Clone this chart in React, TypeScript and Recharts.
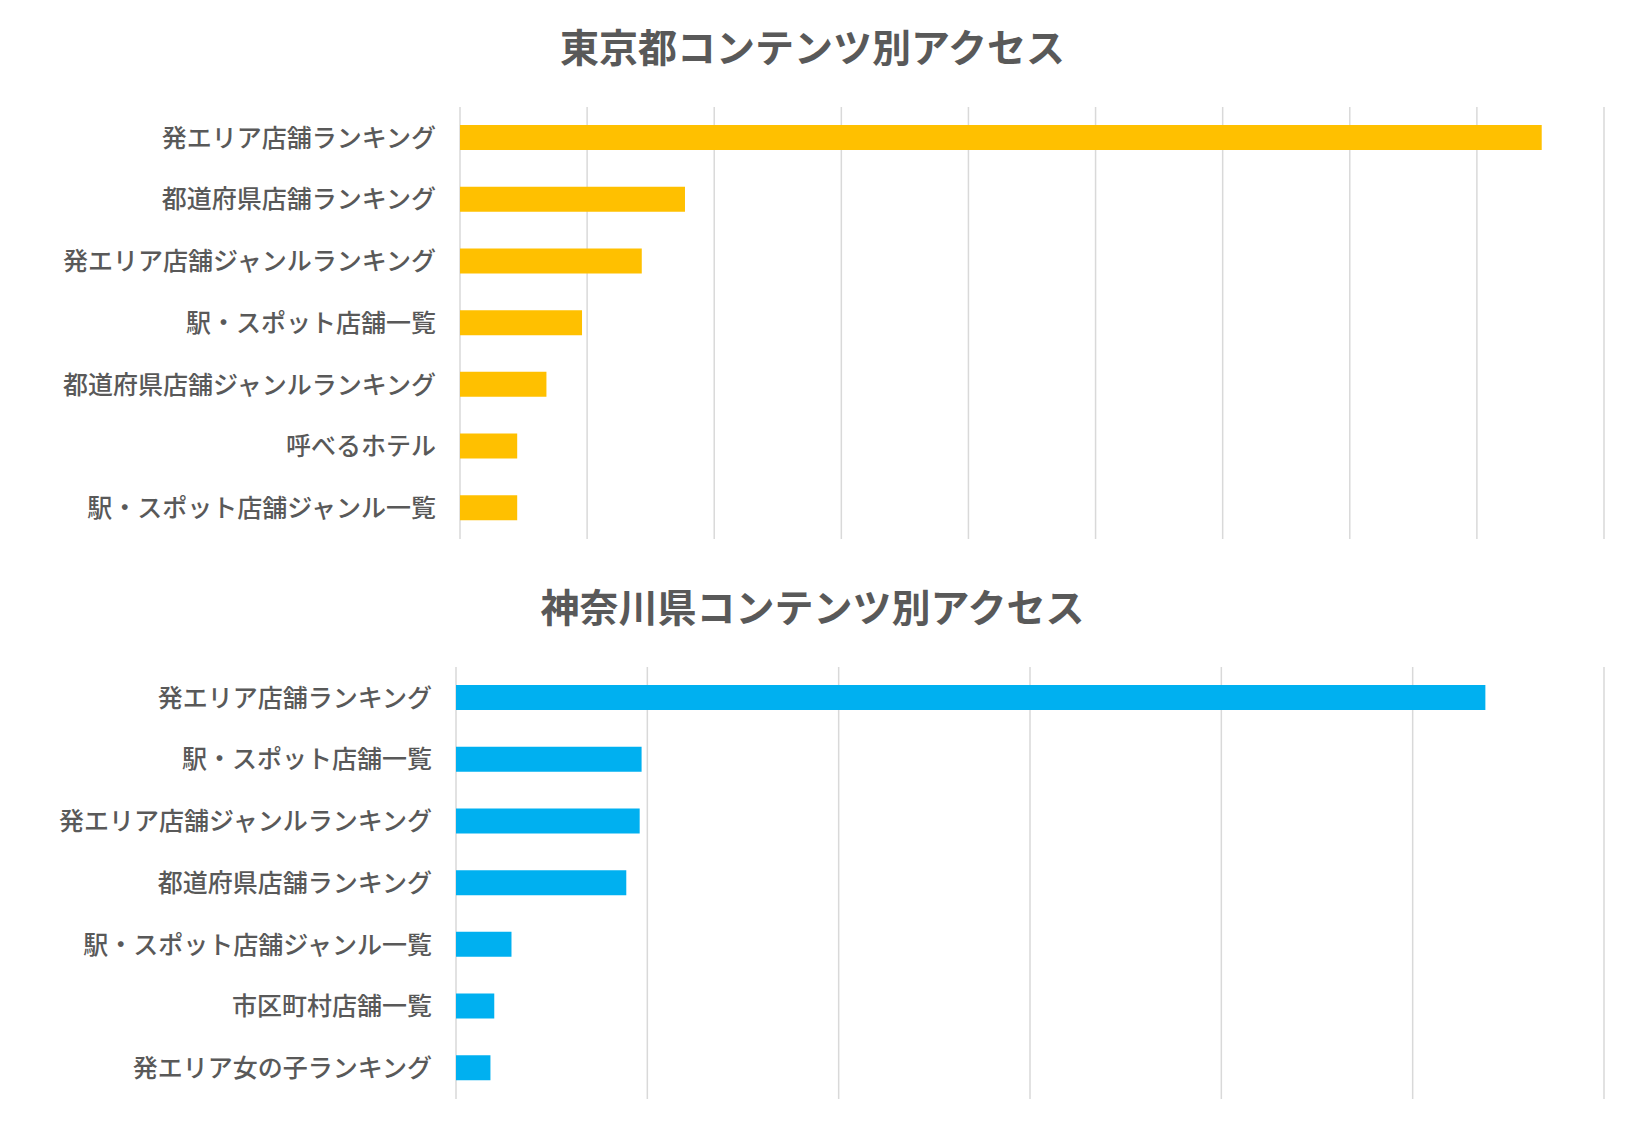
import React from 'react';
import { BarChart, Bar, XAxis, YAxis, CartesianGrid } from 'recharts';

const tokyoCategories = [
  '発エリア店舗ランキング',
  '都道府県店舗ランキング',
  '発エリア店舗ジャンルランキング',
  '駅・スポット店舗一覧',
  '都道府県店舗ジャンルランキング',
  '呼べるホテル',
  '駅・スポット店舗ジャンル一覧',
];
const tokyoValues = [8510, 1770, 1430, 960, 680, 450, 450];
const tokyoTicks = [0, 1000, 2000, 3000, 4000, 5000, 6000, 7000, 8000, 9000];

const kanagawaCategories = [
  '発エリア店舗ランキング',
  '駅・スポット店舗一覧',
  '発エリア店舗ジャンルランキング',
  '都道府県店舗ランキング',
  '駅・スポット店舗ジャンル一覧',
  '市区町村店舗一覧',
  '発エリア女の子ランキング',
];
const kanagawaValues = [5380, 970, 960, 890, 290, 200, 180];
const kanagawaTicks = [0, 1000, 2000, 3000, 4000, 5000, 6000];

const FONT = '"Noto Sans CJK JP", "Noto Sans", sans-serif';
const TEXT = '#595959';

const NoTick = () => <g />;

function AccessChart({
  title,
  categories,
  values,
  ticks,
  color,
  axisWidth,
}: {
  title: string;
  categories: string[];
  values: number[];
  ticks: number[];
  color: string;
  axisWidth: number;
}) {
  const data = categories.map((name, i) => ({ name, value: values[i] }));
  return (
    <div style={{ position: 'relative', width: 1625, height: 560 }}>
      <div
        style={{
          position: 'absolute',
          top: 20,
          left: 0,
          width: 1625,
          textAlign: 'center',
          fontFamily: FONT,
          fontWeight: 700,
          fontSize: 39,
          color: TEXT,
          lineHeight: '50px',
        }}
      >
        {title}
      </div>
      <BarChart
        width={1625}
        height={560}
        data={data}
        layout="vertical"
        margin={{ top: 107, right: 21, bottom: 20, left: 0 }}
      >
        <CartesianGrid horizontal={false} stroke="#d9d9d9" strokeWidth={1.5} />
        <XAxis
          type="number"
          domain={[0, ticks[ticks.length - 1]]}
          ticks={ticks}
          tick={NoTick}
          tickLine={false}
          axisLine={false}
          height={1}
        />
        <YAxis
          type="category"
          dataKey="name"
          width={axisWidth}
          tickLine={false}
          axisLine={false}
          tickMargin={18}
          tick={{ fill: TEXT, fontSize: 25, fontWeight: 500, fontFamily: FONT }}
          interval={0}
        />
        <Bar dataKey="value" fill={color} barSize={25} isAnimationActive={false} />
      </BarChart>
    </div>
  );
}

export default function App() {
  return (
    <div style={{ position: 'absolute', top: 0, left: 0, width: 1625, height: 1125, background: '#fff' }}>
      <AccessChart
        title="東京都コンテンツ別アクセス"
        categories={tokyoCategories}
        values={tokyoValues}
        ticks={tokyoTicks}
        color="#FFC000"
        axisWidth={460}
      />
      <AccessChart
        title="神奈川県コンテンツ別アクセス"
        categories={kanagawaCategories}
        values={kanagawaValues}
        ticks={kanagawaTicks}
        color="#00B0F0"
        axisWidth={456}
      />
    </div>
  );
}
